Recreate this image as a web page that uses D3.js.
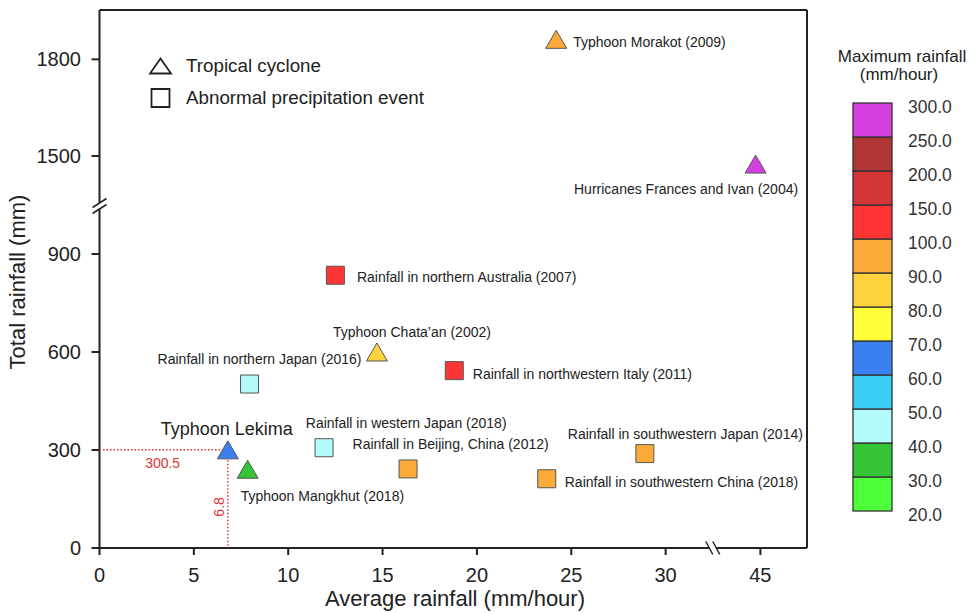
<!DOCTYPE html>
<html>
<head>
<meta charset="utf-8">
<script src="https://cdn.jsdelivr.net/npm/d3@7"></script>
<style>
  body { margin: 0; background: #fff; }
  svg { display: block; font-family: "Liberation Sans", Arial, sans-serif; }
</style>
</head>
<body>
<svg id="chart" width="980" height="613"></svg>
<script>
// ---- data ----
const eventNames = [
  "Typhoon Morakot (2009)",
  "Hurricanes Frances and Ivan (2004)",
  "Rainfall in northern Australia (2007)",
  "Typhoon Chata\u2019an (2002)",
  "Rainfall in northern Japan (2016)",
  "Rainfall in northwestern Italy (2011)",
  "Typhoon Lekima",
  "Typhoon Mangkhut (2018)",
  "Rainfall in western Japan (2018)",
  "Rainfall in Beijing, China (2012)",
  "Rainfall in southwestern Japan (2014)",
  "Rainfall in southwestern China (2018)"
];
const eventTypes = ["cyclone", "cyclone", "abnormal", "cyclone", "abnormal", "abnormal",
                    "cyclone", "cyclone", "abnormal", "abnormal", "abnormal", "abnormal"];
const avgRainfall = [24.2, 44.75, 12.5, 14.7, 7.95, 18.8, 6.8, 7.85, 11.9, 16.35, 28.9, 23.7];
const totalRainfall = [1862, 1475, 835, 600, 502, 543, 300.5, 241, 307, 242, 289, 212];
// estimated maximum rainfall (mm/hour), only its colour class is visible
const maxRainfall = [95, 275, 120, 85, 45, 120, 65, 35, 45, 95, 95, 95];

const xTicks = [0, 5, 10, 15, 20, 25, 30, 45];
const yTicks = [0, 300, 600, 900, 1500, 1800];

const colorBreaks = [20, 30, 40, 50, 60, 70, 80, 90, 100, 150, 200, 250, 300];
const colorBins = ["#4dff3a", "#35c435", "#b3fafa", "#3ad0f5", "#3a80f0", "#ffff3a",
                   "#fdd23c", "#fbaa3a", "#ff3535", "#d33535", "#b03535", "#d43fe0"];

// label placement relative to each marker: [dx, dy, anchor, font size]
const labelLayout = [
  [17, 8, "start", 14],
  [42.5, 30, "end", 14],
  [21.5, 7, "start", 14],
  [-44, -15.5, "start", 14],
  [112, -20.5, "end", 14],
  [18.5, 8, "start", 14],
  [-1, -14.5, "middle", 18],
  [-7, 31.5, "start", 14],
  [-18.3, -20, "start", 14],
  [-55.5, -20, "start", 14],
  [-77, -15, "start", 14],
  [18, 8, "start", 14]
];

const events = eventNames.map((name, i) => ({
  name: name, type: eventTypes[i], x: avgRainfall[i], y: totalRainfall[i], max: maxRainfall[i],
  dx: labelLayout[i][0], dy: labelLayout[i][1], anchor: labelLayout[i][2], size: labelLayout[i][3]
}));

// ---- scales (broken axes) ----
const plotLeft = 99.5, plotRight = 807, plotTop = 10, plotBottom = 548;
const xBreak = 712.8, yBreak = 206;

const x = d3.scaleLinear()
  .domain([0, 32.5, 42.5, 47.45])
  .range([plotLeft, xBreak, xBreak, plotRight]);
const y = d3.scaleLinear()
  .domain([0, 1047, 1345, 1953])
  .range([plotBottom, yBreak, yBreak, plotTop]);
const color = d3.scaleThreshold()
  .domain(colorBreaks.slice(1, -1))
  .range(colorBins);

const svg = d3.select("#chart");
const ink = "#222";

// ---- frame with breaks ----
const frame = svg.append("g")
  .attr("stroke", ink)
  .attr("stroke-width", 2)
  .attr("fill", "none");
frame.append("line").attr("x1", plotLeft).attr("x2", plotRight).attr("y1", plotTop).attr("y2", plotTop);
frame.append("line").attr("x1", plotRight).attr("x2", plotRight).attr("y1", plotTop).attr("y2", plotBottom);
frame.append("line").attr("x1", plotLeft).attr("x2", xBreak - 3.5).attr("y1", plotBottom).attr("y2", plotBottom);
frame.append("line").attr("x1", xBreak + 3.5).attr("x2", plotRight).attr("y1", plotBottom).attr("y2", plotBottom);
frame.append("line").attr("x1", plotLeft).attr("x2", plotLeft).attr("y1", plotTop).attr("y2", yBreak - 3);
frame.append("line").attr("x1", plotLeft).attr("x2", plotLeft).attr("y1", yBreak + 3).attr("y2", plotBottom);

// break marks
[-3.5, 3.5].forEach(o => {
  frame.append("line")
    .attr("x1", xBreak + o - 3.5).attr("y1", plotBottom - 6.5)
    .attr("x2", xBreak + o + 3.5).attr("y2", plotBottom + 6.5)
    .attr("stroke-width", 1.5);
});
[-3, 3].forEach(o => {
  frame.append("line")
    .attr("x1", plotLeft - 7).attr("y1", yBreak + o + 4.5)
    .attr("x2", plotLeft + 7).attr("y2", yBreak + o - 4.5)
    .attr("stroke-width", 1.5);
});

// ---- ticks ----
const xAxis = svg.append("g");
xAxis.selectAll("line")
  .data(xTicks)
  .join("line")
  .attr("x1", d => x(d)).attr("x2", d => x(d))
  .attr("y1", plotBottom).attr("y2", plotBottom + 7)
  .attr("stroke", ink).attr("stroke-width", 2);
xAxis.selectAll("text")
  .data(xTicks)
  .join("text")
  .attr("x", d => x(d))
  .attr("y", 582)
  .attr("text-anchor", "middle")
  .attr("font-size", 20)
  .attr("fill", ink)
  .text(d => d);

const yAxis = svg.append("g");
yAxis.selectAll("line")
  .data(yTicks)
  .join("line")
  .attr("x1", plotLeft - 8).attr("x2", plotLeft)
  .attr("y1", d => y(d)).attr("y2", d => y(d))
  .attr("stroke", ink).attr("stroke-width", 2);
yAxis.selectAll("text")
  .data(yTicks)
  .join("text")
  .attr("x", 81)
  .attr("y", d => y(d))
  .attr("dy", "0.35em")
  .attr("text-anchor", "end")
  .attr("font-size", 20)
  .attr("fill", ink)
  .text(d => d);

// axis titles
svg.append("text")
  .attr("x", 455).attr("y", 606)
  .attr("text-anchor", "middle")
  .attr("font-size", 22)
  .attr("fill", ink)
  .text("Average rainfall (mm/hour)");
svg.append("text")
  .attr("transform", "translate(25,282) rotate(-90)")
  .attr("text-anchor", "middle")
  .attr("font-size", 22)
  .attr("fill", ink)
  .text("Total rainfall (mm)");

// ---- Lekima reference lines ----
const lekima = events.find(d => d.name === "Typhoon Lekima");
const ref = svg.append("g")
  .attr("stroke", "#e03535")
  .attr("stroke-width", 1.5)
  .attr("stroke-dasharray", "1.5,2");
ref.append("line")
  .attr("x1", x(0)).attr("x2", x(lekima.x))
  .attr("y1", y(lekima.y)).attr("y2", y(lekima.y));
ref.append("line")
  .attr("x1", x(lekima.x)).attr("x2", x(lekima.x))
  .attr("y1", y(lekima.y)).attr("y2", y(0));
svg.append("text")
  .attr("x", x(lekima.x / 2) - 1)
  .attr("y", y(lekima.y) + 18)
  .attr("text-anchor", "middle")
  .attr("font-size", 14)
  .attr("fill", "#e03535")
  .text(lekima.y.toFixed(1));
svg.append("text")
  .attr("transform", `translate(${x(lekima.x) - 4},${(y(0) + y(lekima.y)) / 2 + 8}) rotate(-90)`)
  .attr("text-anchor", "middle")
  .attr("font-size", 14)
  .attr("fill", "#e03535")
  .text(lekima.x.toFixed(1));

// ---- markers ----
const triPath = "M0,-9L10.5,9L-10.5,9Z";
const sqPath = "M-9,-9H9V9H-9Z";

const marks = svg.append("g")
  .selectAll("g")
  .data(events)
  .join("g")
  .attr("transform", d => `translate(${x(d.x)},${y(d.y)})`);
marks.append("path")
  .attr("d", d => d.type === "cyclone" ? triPath : sqPath)
  .attr("fill", d => color(d.max))
  .attr("stroke", "#555")
  .attr("stroke-width", 1);
marks.append("text")
  .attr("x", d => d.dx)
  .attr("y", d => d.dy)
  .attr("text-anchor", d => d.anchor)
  .attr("font-size", d => d.size)
  .attr("fill", ink)
  .text(d => d.name);

// ---- shape legend ----
const legendItems = [
  {label: "Tropical cyclone", path: "M0,-7.5L10.5,7.5L-10.5,7.5Z", cy: 66, ty: 72},
  {label: "Abnormal precipitation event", path: sqPath, cy: 98, ty: 104}
];
const legend = svg.append("g")
  .selectAll("g")
  .data(legendItems)
  .join("g");
legend.append("path")
  .attr("transform", d => `translate(160.5,${d.cy})`)
  .attr("d", d => d.path)
  .attr("fill", "none")
  .attr("stroke", ink)
  .attr("stroke-width", 1.8);
legend.append("text")
  .attr("x", 186)
  .attr("y", d => d.ty)
  .attr("font-size", 18.8)
  .attr("fill", ink)
  .text(d => d.label);

// ---- colour bar ----
const cb = svg.append("g");
cb.append("text")
  .attr("x", 902).attr("y", 62)
  .attr("text-anchor", "middle")
  .attr("font-size", 17)
  .attr("fill", ink)
  .text("Maximum rainfall");
cb.append("text")
  .attr("x", 899).attr("y", 80)
  .attr("text-anchor", "middle")
  .attr("font-size", 17)
  .attr("fill", ink)
  .text("(mm/hour)");

const cbStops = colorBreaks.slice().reverse();
const cbY = d3.scalePoint()
  .domain(cbStops)
  .range([103, 511]);
const cbBins = colorBins.map((c, i) => ({lo: colorBreaks[i], hi: colorBreaks[i + 1], c: c}));
cb.selectAll("rect")
  .data(cbBins)
  .join("rect")
  .attr("x", 853)
  .attr("y", d => cbY(d.hi))
  .attr("width", 39)
  .attr("height", d => cbY(d.lo) - cbY(d.hi))
  .attr("fill", d => d.c)
  .attr("stroke", "#333")
  .attr("stroke-width", 1.3);
cb.selectAll("text.tick")
  .data(cbStops)
  .join("text")
  .attr("class", "tick")
  .attr("x", 908)
  .attr("y", d => cbY(d) + 4)
  .attr("dy", "0.35em")
  .attr("font-size", 17.5)
  .attr("fill", "#333")
  .text(d => d.toFixed(1));
</script>
</body>
</html>
